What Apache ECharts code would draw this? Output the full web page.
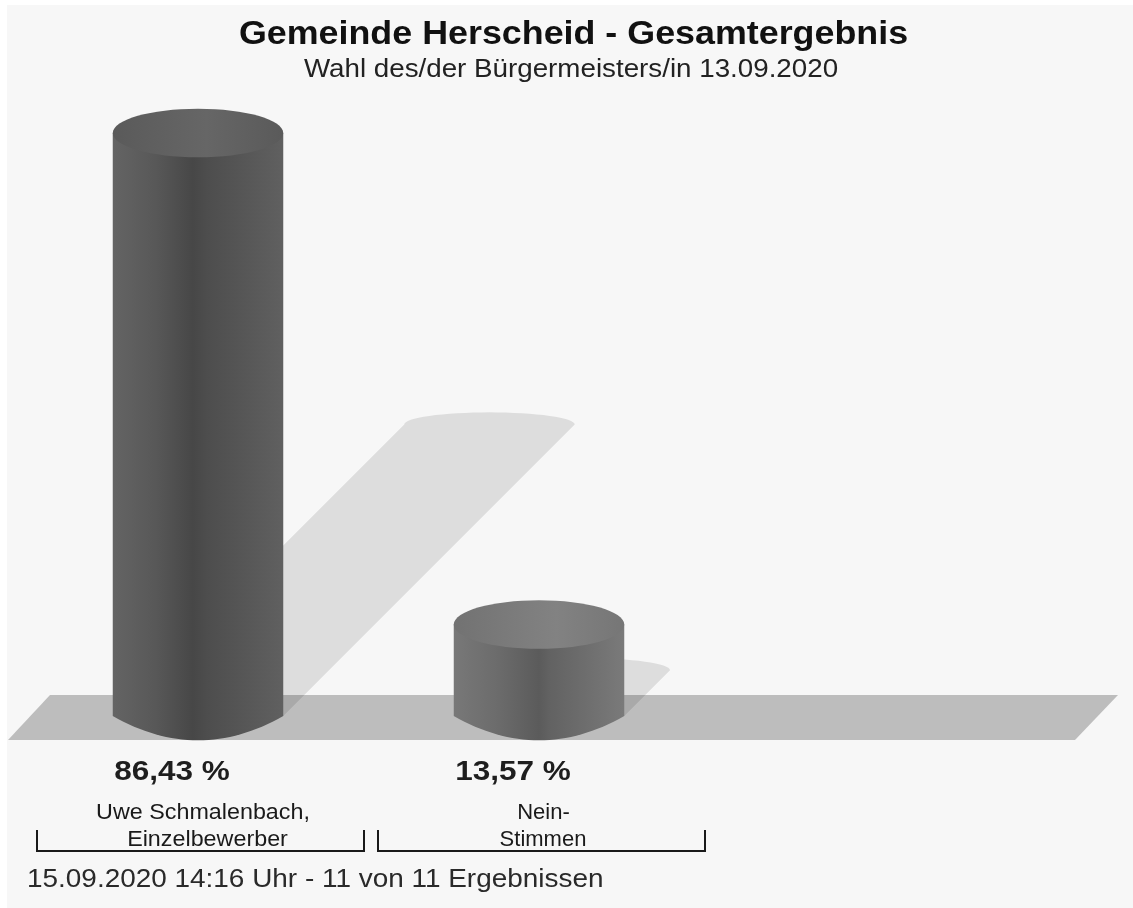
<!DOCTYPE html>
<html><head><meta charset="utf-8">
<style>html,body{margin:0;padding:0;background:#fff}#c{width:1133px;height:908px}</style>
<script src="https://cdn.jsdelivr.net/npm/echarts@6/dist/echarts.min.js"></script>
</head><body><div id="c"></div>
<script>
const categories = ['Uwe Schmalenbach,\nEinzelbewerber', 'Nein-\nStimmen'];
const shares = [86.43, 13.57];
const titleText = 'Gemeinde Herscheid - Gesamtergebnis';
const subtitleText = 'Wahl des/der Bürgermeisters/in 13.09.2020';
const footerText = '15.09.2020 14:16 Uhr - 11 von 11 Ergebnissen';

const FONT = '"Liberation Sans", Arial, sans-serif';
const labelShift = [[2.5,7],[2,1.5]];
const labelScale = [1.06,1.0];
const bodyStops = [
  [[0,'#646464'],[0.25,'#585858'],[0.47,'#474747'],[0.55,'#4d4d4d'],[1,'#606060']],
  [[0,'#787878'],[0.25,'#6c6c6c'],[0.5,'#5b5b5b'],[0.56,'#626262'],[1,'#7a7a7a']]
];
const capStops = [
  [[0,'#5a5a5a'],[0.55,'#666666'],[1,'#5a5a5a']],
  [[0,'#727272'],[0.6,'#828282'],[1,'#767676']]
];
function hGrad(stops){
  return {type:'linear',x:0,y:0,x2:1,y2:0,colorStops:stops.map(s=>({offset:s[0],color:s[1]}))};
}
function renderItem(params, api){
  const i = api.value(0), v = api.value(1);
  const base = api.coord([i,0]), top = api.coord([i,v]);
  const slot = api.size([1,0])[0];
  const rx = slot*0.25, ry = rx*0.285;
  const cx = base[0]-2.5, y0 = base[1], y1 = top[1];
  const s = (y0-y1)*0.5;
  const pts = [[cx-rx,y0]];
  for(let k=0;k<=32;k++){
    const t = Math.PI*k/32;
    pts.push([cx+s-rx*Math.cos(t), y0-s-(ry*0.5)*Math.sin(t)]);
  }
  pts.push([cx+rx,y0]);
  // cylinder outline: side walls plus a rounded foot
  const body = [[cx-rx,y1],[cx+rx,y1]];
  for(let k=0;k<=32;k++){
    const u = 1-2*k/32;
    body.push([cx+rx*u, y0+ry*(1-u*u)]);
  }
  const brL = base[0]-slot/2+7, brR = base[0]+slot/2-7, brY = y0+135;
  const txt = v.toFixed(2).replace('.',',')+' %';
  const lines = categories[i].split('\n');
  const lineEls = lines.map((t,n)=>({type:'text',x:base[0]+labelShift[i][n],y:y0+97+n*27,scaleX:labelScale[i],
    style:{text:t,x:0,y:0,align:'center',verticalAlign:'middle',font:'22px '+FONT,fill:'#1a1a1a'}}));
  return {type:'group',children:[
    {type:'polygon',shape:{points:pts},style:{fill:'rgba(0,0,0,0.1)'}},
    {type:'polygon',shape:{points:body},style:{fill:hGrad(bodyStops[i])}},
    {type:'ellipse',shape:{cx:cx,cy:y1,rx:rx,ry:ry},style:{fill:hGrad(capStops[i])}},
    {type:'text',x:cx-26,y:y0+57,scaleX:1.167,style:{text:txt,x:0,y:0,align:'center',verticalAlign:'middle',
      font:'bold 27px '+FONT,fill:'#1e1e1e'}},
    {type:'polyline',shape:{points:[[brL,brY-21],[brL,brY],[brR,brY],[brR,brY-21]]},
      style:{stroke:'#1a1a1a',lineWidth:2,fill:null}}
  ].concat(lineEls)};
}
const chart = echarts.init(document.getElementById('c'),null,{renderer:'canvas'});
chart.setOption({
  animation:false,
  backgroundColor:'#ffffff',
  graphic:[
    {type:'rect',z:0,silent:true,shape:{x:7,y:5,width:1126,height:903},style:{fill:'#f7f7f7'}},
    {type:'polygon',z:1,silent:true,shape:{points:[[8,740],[50,695],[1118,695],[1075,740]]},style:{fill:'#bdbdbd'}},
    {type:'text',z:5,silent:true,x:573.5,y:35,scaleX:1.054,style:{text:titleText,x:0,y:0,align:'center',verticalAlign:'middle',
      font:'bold 34px '+FONT,fill:'#111'}},
    {type:'text',z:5,silent:true,x:571,y:70,scaleX:1.11,style:{text:subtitleText,x:0,y:0,align:'center',verticalAlign:'middle',
      font:'25px '+FONT,fill:'#222'}},
    {type:'text',z:5,silent:true,x:27,y:880,scaleX:1.117,style:{text:footerText,x:0,y:0,align:'left',verticalAlign:'middle',
      font:'25px '+FONT,fill:'#2a2a2a'}}
  ],
  grid:{left:30,width:682,top:41.5,bottom:192,containLabel:false},
  xAxis:{type:'category',data:categories,axisLine:{show:false},axisTick:{show:false},axisLabel:{show:false}},
  yAxis:{type:'value',min:0,max:100,show:false,splitLine:{show:false}},
  series:[{type:'custom',z:3,clip:false,renderItem:renderItem,
    encode:{x:0,y:1},data:shares.map((v,i)=>[i,v])}]
});
</script></body></html>
